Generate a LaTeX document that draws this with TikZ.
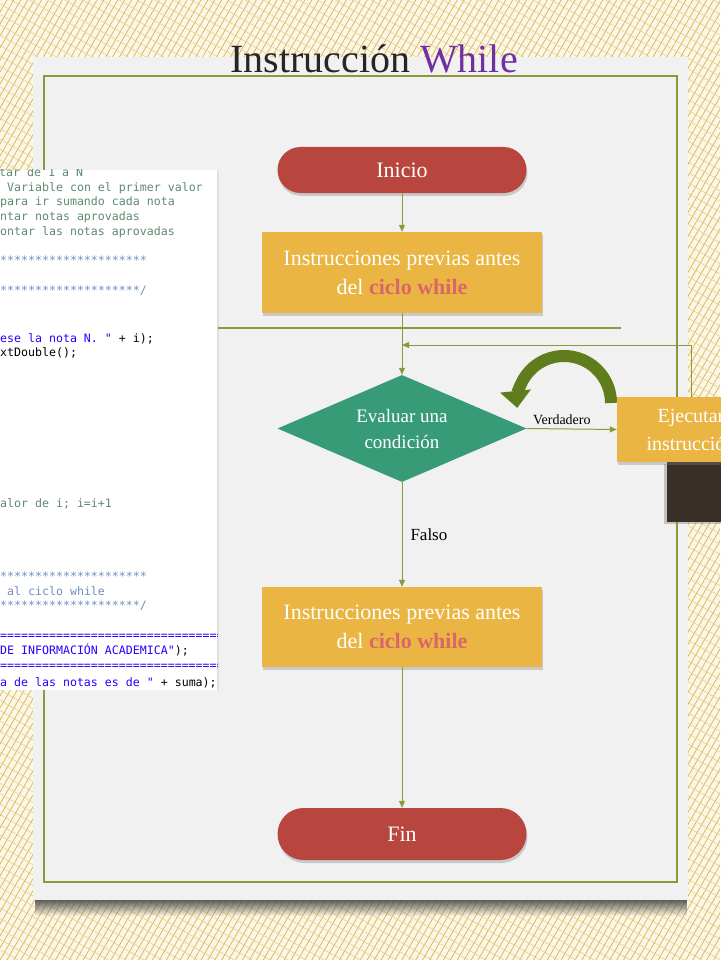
\documentclass[tikz,border=0pt]{standalone}
\usepackage{fontspec}
\setmainfont{Liberation Serif}
\newfontfamily\codefont{DejaVu Sans Mono}
\usetikzlibrary{arrows.meta,shapes.geometric,shadows,patterns.meta,fadings}
\definecolor{fondo}{HTML}{FBF7E8}
\definecolor{oro}{HTML}{D9B448}
\definecolor{panel}{HTML}{F1F1F1}
\definecolor{oliva}{HTML}{8A9A3A}
\definecolor{rojo}{HTML}{B9463E}
\definecolor{dorado}{HTML}{EAB543}
\definecolor{verde}{HTML}{379B78}
\definecolor{morado}{HTML}{7030A0}
\definecolor{comentario}{HTML}{5F8A6F}
\definecolor{doc}{HTML}{6F8FC0}
\definecolor{cadena}{HTML}{2A00FF}
\definecolor{curva}{HTML}{5F7D1D}
\definecolor{cafe}{HTML}{3A2F27}
\definecolor{rosa}{HTML}{D9666A}
\begin{document}
\begin{tikzpicture}[x=1pt,y=-1pt,>={Triangle[length=7pt,width=6pt]},
	sombra/.style={drop shadow={opacity=.35,shadow xshift=1pt,shadow yshift=-3pt}},
	pill/.style={fill=rojo,rounded corners=23pt,minimum width=249pt,text=white,font=\fontsize{22}{26}\selectfont,sombra},
	caja/.style={fill=dorado,minimum width=280pt,text=white,align=center,font=\fontsize{22}{29}\selectfont,sombra},
	decision/.style={diamond,aspect=2.33,fill=verde,minimum width=249pt,minimum height=107pt,inner sep=0pt,text=white,align=center,font=\fontsize{19}{26}\selectfont},
	flecha/.style={draw=oliva,line width=1pt,->},
	codigo/.style={anchor=base west,inner sep=0pt,font=\codefont\fontsize{11.6}{14}\selectfont}]
			\useasboundingbox (0,0) rectangle (720,960);
			% fondo y panel
			\fill[fondo] (0,0) rectangle (720,960);
			\fill[pattern={Lines[angle=60,distance=6pt,line width=.7pt]},pattern color=oro] (0,0) rectangle (720,960);
			\fill[pattern={Lines[angle=-30,distance=9pt,line width=.5pt]},pattern color=oro!70] (0,0) rectangle (720,960);
			\fill[black!70,path fading=south] (35,898) rectangle (688,916);
			\fill[panel] (33,57) rectangle (688,900);
			\draw[oliva,line width=2pt] (44,76) rectangle (677,882);
			\fill[cafe,drop shadow={opacity=.4,shadow xshift=-3pt,shadow yshift=-2pt}] (667,462) rectangle (730,522);
			% codigo
			\fill[white,drop shadow={opacity=.15,shadow xshift=2pt,shadow yshift=0pt}] (0,170) rectangle (217,690);
			\begin{scope}
				\clip (0,170) rectangle (217,690);
				\node[codigo,text=comentario] (c1) at (-1,176) {tar de 1 a N};
				\node[codigo,text=comentario] (c2) at (7,191) {Variable con el primer valor};
				\node[codigo,text=comentario] (c3) at (0,205) {para ir sumando cada nota};
				\node[codigo,text=comentario] (c4) at (0,220) {ntar notas aprovadas};
				\node[codigo,text=comentario] (c5) at (0,235) {ontar las notas aprovadas};
				\node[codigo,text=doc] (c6) at (0,264) {*********************};
				\node[codigo,text=doc] (c7) at (0,294) {********************/};
				\node[codigo] (c8) at (0,342) {\textcolor{cadena}{ese la nota N. "} + i);};
				\node[codigo] (c9) at (0,356) {xtDouble();};
				\node[codigo,text=comentario] (c10) at (0,507) {alor de i; i=i+1};
				\node[codigo,text=doc] (c11) at (0,580) {*********************};
				\node[codigo,text=doc] (c12) at (7,595) {al ciclo while};
				\node[codigo,text=doc] (c13) at (0,609) {********************/};
				\node[codigo,text=cadena] (c14) at (0,639) {================================};
				\node[codigo] (c15) at (0,654) {\textcolor{cadena}{DE INFORMACIÓN ACADEMICA"});};
				\node[codigo,text=cadena] (c16) at (0,669) {================================};
				\node[codigo] (c17) at (0,686) {\textcolor{cadena}{a de las notas es de "} + suma);};
			\end{scope}
			% titulo
			\node[anchor=base,text=black!85,font=\fontsize{40}{44}\selectfont] (titulo) at (374,73) {Instrucción \textcolor{morado}{While}};
			\draw[oliva,line width=2pt] (218,328) -- (621,328);
			% diagrama
			\draw (402,170) node[pill,minimum height=46pt](inicio){Inicio}
			(402,272.5) node[caja,minimum height=81pt](previas){Instrucciones previas antes\\del \textcolor{rosa}{\textbf{ciclo while}}}
			(402,428.5) node[decision](cond){Evaluar una\\condición}
			(691,429.5) node[caja,minimum width=148pt,minimum height=65pt,font=\fontsize{20}{28}\selectfont](ejecutar){Ejecutar\\instrucción}
			(402,627) node[caja,minimum height=80pt](despues){Instrucciones previas antes\\del \textcolor{rosa}{\textbf{ciclo while}}}
			(402,834) node[pill,minimum height=52pt,rounded corners=26pt](fin){Fin};
			\coordinate (union) at (402,345);
			\draw[flecha] (inicio) -- (previas);
			\draw[flecha] (previas) -- (cond);
			\draw[flecha] (ejecutar.north) |- (union);
			\draw[flecha] (cond.east) -- node[pos=.39,above,text=black,font=\fontsize{14}{16}\selectfont](verdadero){Verdadero} (ejecutar.west);
			\draw[flecha] (cond) -- node[right,inner sep=8pt,text=black,font=\fontsize{17}{20}\selectfont](falso){Falso} (despues);
			\draw[flecha] (despues) -- (fin);
			\draw[curva,line width=12pt,-{Triangle[width=30pt,length=17pt]}] (611,403) arc[start angle=0,end angle=-186,radius=47];
		\end{tikzpicture}
\end{document}
